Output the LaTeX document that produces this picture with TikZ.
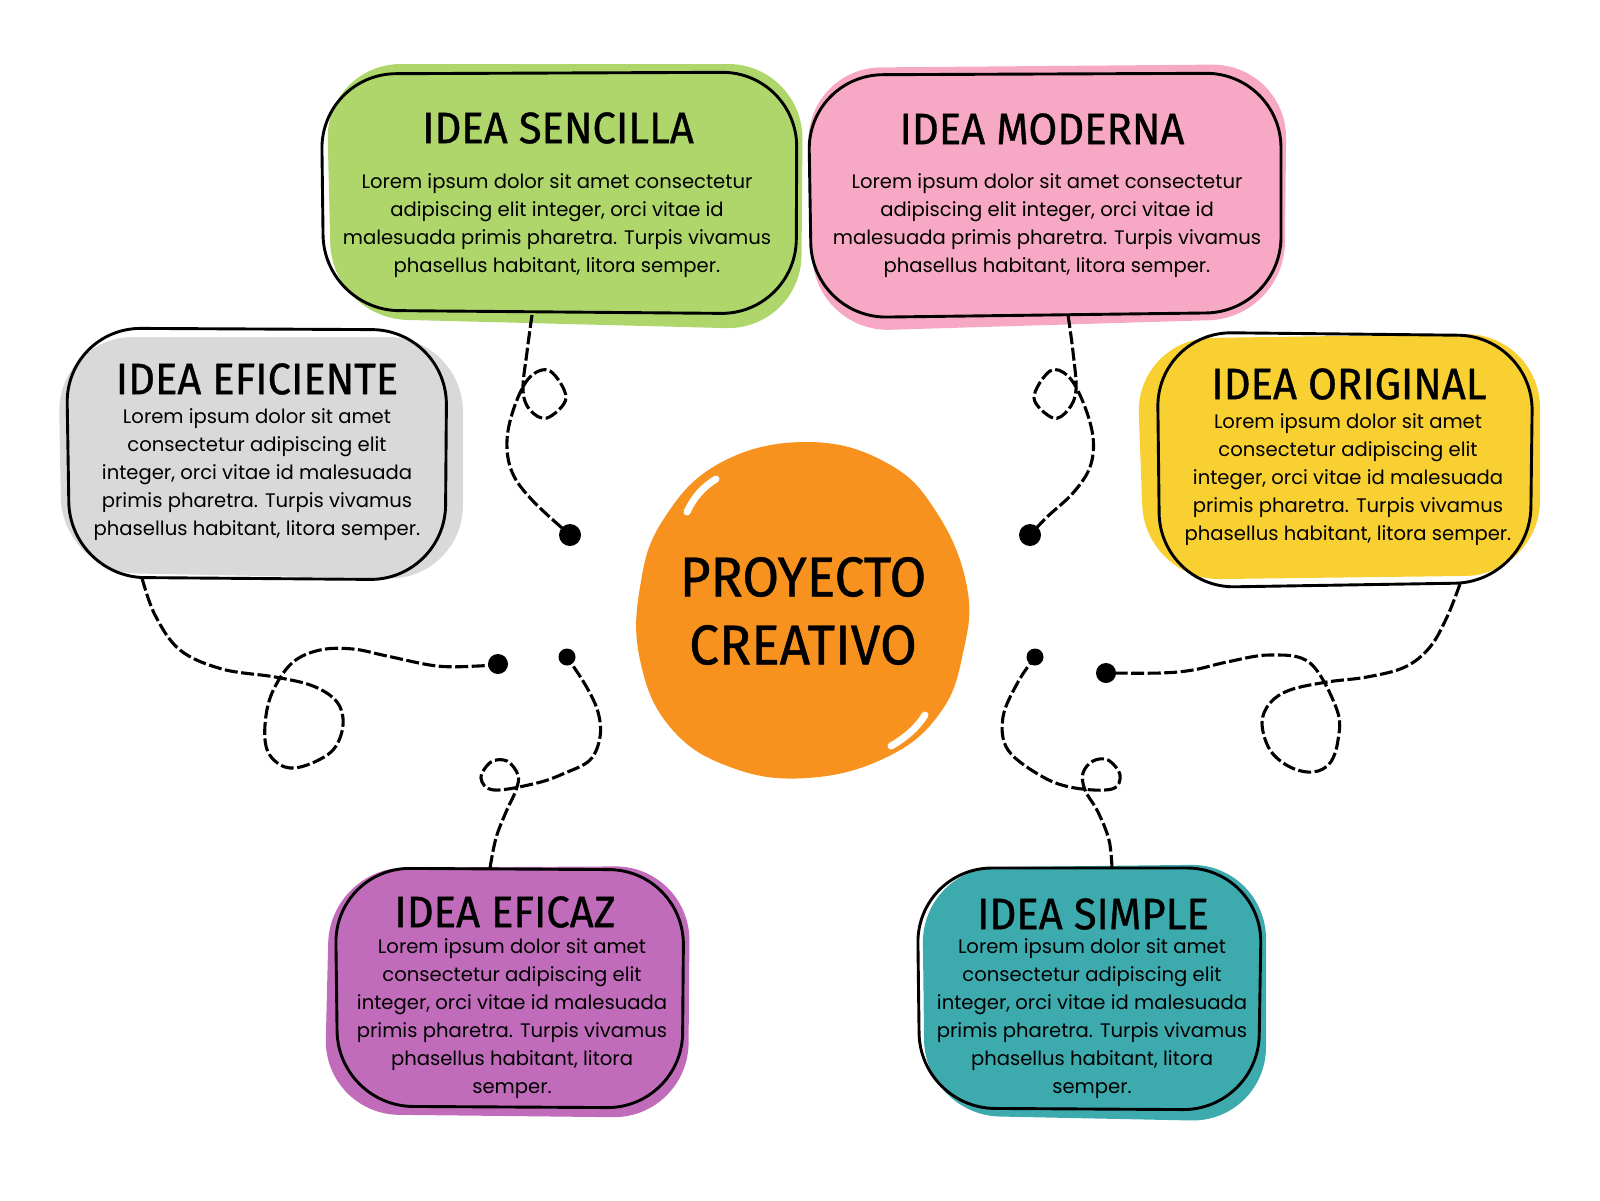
\documentclass[tikz,border=0pt]{standalone}
\usepackage{fontspec}
\setmainfont{Poppins}
\newfontfamily\titfont[FakeStretch=0.95,FakeBold=0.8]{Fira Sans}
\definecolor{verde}{HTML}{AED66A}
\definecolor{rosa}{HTML}{F7A8C4}
\definecolor{gris}{HTML}{D9D9D9}
\definecolor{amarillo}{HTML}{F8D032}
\definecolor{morado}{HTML}{C16CBA}
\definecolor{turquesa}{HTML}{3DABAE}
\definecolor{naranja}{HTML}{F7921E}
\begin{document}
\begin{tikzpicture}[x=1pt,y=-1pt,
  caja/.style={draw=black,line width=2.9pt,rounded corners=75pt},
  mancha/.style={rounded corners=75pt},
  titulo/.style={inner sep=0pt,font=\titfont\fontsize{44}{44}\selectfont},
  cuerpo/.style={inner sep=0pt,anchor=north,align=center,font=\fontsize{19.6}{28}\selectfont},
  enlace/.style={line width=3.1pt,dash pattern=on 13pt off 3.5pt},
  punto/.style={circle,fill=black,inner sep=0pt,minimum size=20pt}]
\useasboundingbox (0,0) rectangle (1600,1200);
\def\cuatro{Lorem ipsum dolor sit amet consectetur\\adipiscing elit integer, orci vitae id\\malesuada primis pharetra. Turpis vivamus\\phasellus habitant, litora semper.}
\def\cinco{Lorem ipsum dolor sit amet\\consectetur adipiscing elit\\integer, orci vitae id malesuada\\primis pharetra. Turpis vivamus\\phasellus habitant, litora semper.}
\def\seis{Lorem ipsum dolor sit amet\\consectetur adipiscing elit\\integer, orci vitae id malesuada\\primis pharetra. Turpis vivamus\\phasellus habitant, litora\\semper.}

\fill[verde,mancha] (326,64) -- (803,64) -- (801,330) -- (332,318) -- cycle;
\fill[rosa,mancha] (806,68) -- (1287,64) -- (1284,318) -- (815,332) -- cycle;
\fill[gris,mancha] (58,337) -- (463,337) -- (463,580) -- (62,572) -- cycle;
\fill[amarillo,mancha] (1136,339) -- (1540,333) -- (1540,575) -- (1145,580) -- cycle;
\fill[morado,mancha] (330,868) -- (690,866) -- (688,1118) -- (324,1114) -- cycle;
\fill[turquesa,mancha] (922,868) -- (1266,864) -- (1266,1122) -- (925,1115) -- cycle;

\draw[caja] (321,74) -- (797,72) -- (796,314) -- (324,310) -- cycle;
\draw[caja] (808,75) -- (1281,73) -- (1281,312) -- (812,318) -- cycle;
\draw[caja] (66,328) -- (447,330) -- (445,580) -- (70,577) -- cycle;
\draw[caja] (1157,332) -- (1533,336) -- (1530,582) -- (1160,588) -- cycle;
\draw[caja] (335,868) -- (684,870) -- (682,1108) -- (338,1106) -- cycle;
\draw[caja] (917,868) -- (1262,868) -- (1258,1110) -- (920,1108) -- cycle;

\fill[naranja] plot[smooth cycle,tension=0.7] coordinates {(807,442) (887,463) (937,513) (967,587) (963,653) (940,713) (887,757) (807,778) (730,767) (670,727) (640,660) (640,587) (663,520) (720,463)};
\draw[white,line width=7pt,line cap=round] (687,512) .. controls (694,497) and (703,487) .. (716,479);
\draw[white,line width=7pt,line cap=round] (891,746) .. controls (905,738) and (917,728) .. (925,715);
\node[titulo,align=center,font=\titfont\fontsize{56}{68}\selectfont] (proyecto) at (803,611) {PROYECTO\\CREATIVO};

\node[titulo] (sencilla) at (558,128) {IDEA SENCILLA};
\node[cuerpo] (sencillaTxt) at (557,173.5) {\cuatro};
\node[titulo] (moderna) at (1042,129) {IDEA MODERNA};
\node[cuerpo] (modernaTxt) at (1047,173.5) {\cuatro};
\node[titulo] (eficiente) at (257,379) {IDEA EFICIENTE};
\node[cuerpo] (eficienteTxt) at (257,408.5) {\cinco};
\node[titulo] (original) at (1349,384) {IDEA ORIGINAL};
\node[cuerpo] (originalTxt) at (1348,413.5) {\cinco};
\node[titulo] (eficaz) at (505,912) {IDEA EFICAZ};
\node[cuerpo] (eficazTxt) at (512,938.5) {\seis};
\node[titulo] (simple) at (1093,914) {IDEA SIMPLE};
\node[cuerpo] (simpleTxt) at (1092,938.5) {\seis};

\coordinate (s1) at (532,315);
\coordinate (s2) at (1068,315);
\coordinate (s3) at (142,578);
\coordinate (s4) at (490,868);
\coordinate (s5) at (1112,868);
\coordinate (s6) at (1460,584);
\node[punto,minimum size=22pt] (p1) at (570,535) {};
\node[punto,minimum size=22pt] (p2) at (1030,535) {};
\node[punto] (p3) at (498,664) {};
\node[punto,minimum size=17pt] (p4) at (567,657) {};
\node[punto,minimum size=17pt] (p5) at (1035,657) {};
\node[punto] (p6) at (1106,673) {};

\draw[enlace] plot[smooth,tension=0.6] coordinates {(s1) (527,352) (523,390) (530,410) (547,418) (566,398) (550,371) (530,377) (515,405) (507,440) (512,472) (532,500) (p1)};
\draw[enlace] plot[smooth,tension=0.6] coordinates {(s2) (1073,352) (1076,390) (1068,410) (1053,418) (1034,398) (1050,371) (1068,376) (1083,402) (1093,437) (1090,467) (1073,493) (1047,517) (p2)};
\draw[enlace] plot[smooth,tension=0.6] coordinates {(s3) (155,615) (180,650) (222,669) (275,677) (313,686) (337,702) (343,725) (333,750) (307,765) (285,767) (268,752) (265,725) (272,693) (292,663) (320,650) (353,649) (387,656) (437,666) (478,666) (p3)};
\draw[enlace] plot[smooth,tension=0.6] coordinates {(s4) (496,838) (506,812) (516,790) (518,775) (507,761) (491,762) (481,778) (494,790) (537,783) (565,773) (590,760) (600,737) (598,712) (586,686) (p4)};
\draw[enlace] plot[smooth,tension=0.6] coordinates {(s5) (1109,840) (1098,812) (1085,790) (1083,773) (1093,761) (1108,760) (1120,775) (1112,789) (1075,788) (1043,777) (1008,750) (1003,717) (1018,682) (p5)};
\draw[enlace] plot[smooth,tension=0.6] coordinates {(s6) (1447,617) (1430,647) (1405,667) (1367,677) (1327,682) (1290,690) (1270,703) (1262,723) (1270,750) (1290,767) (1313,772) (1330,763) (1338,740) (1337,710) (1310,663) (1270,655) (1227,662) (1193,670) (1160,673) (p6)};
\end{tikzpicture}
\end{document}
